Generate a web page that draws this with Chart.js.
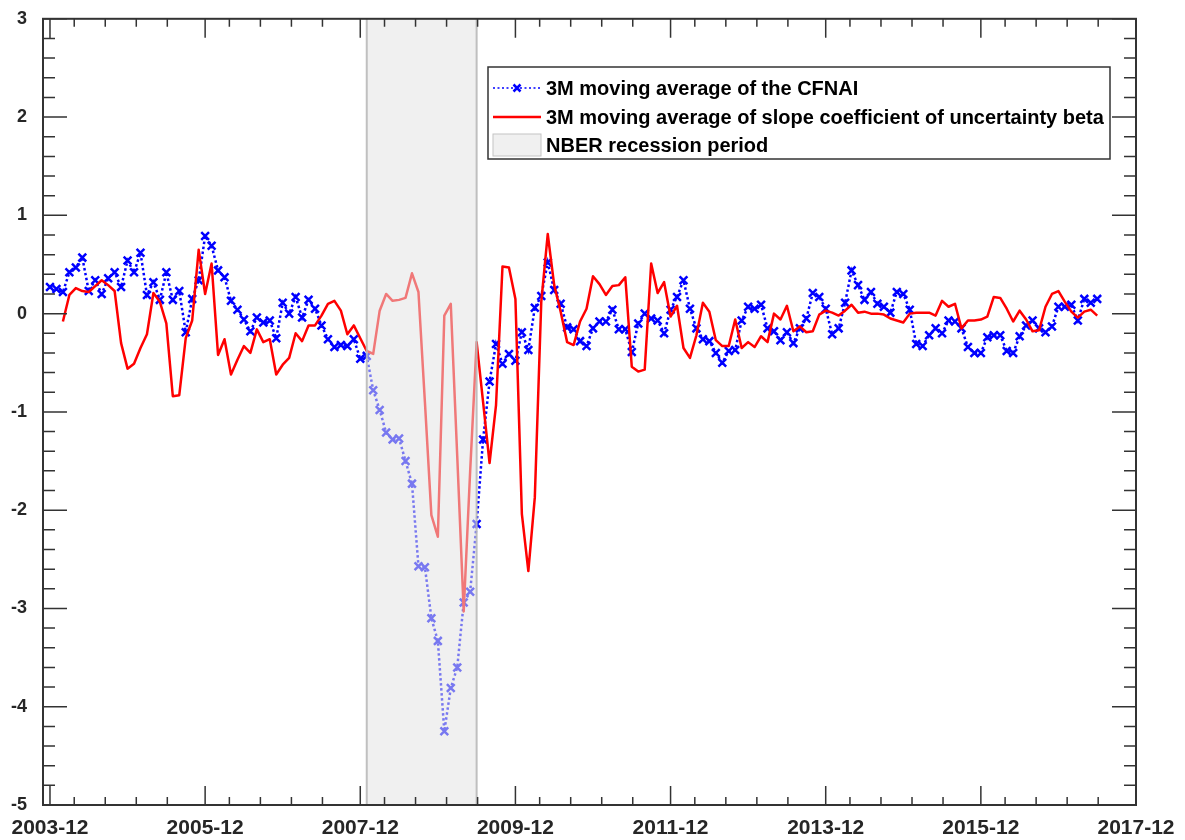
<!DOCTYPE html>
<html>
<head>
<meta charset="utf-8">
<title>CFNAI and uncertainty beta</title>
<script src="https://cdn.jsdelivr.net/npm/chart.js@4.4.0/dist/chart.umd.min.js"></script>
<style>
  html, body { margin: 0; padding: 0; background: #fff; }
  #chart-wrap { width: 1185px; height: 840px; }
</style>
</head>
<body>
<div id="chart-wrap"><canvas id="cfnai-chart" width="1185" height="840"></canvas></div>
<script>
// Tick labels on the date axis, one every 24 months from 2003-12
const xTickLabels = ['2003-12', '2005-12', '2007-12', '2009-12', '2011-12', '2013-12', '2015-12', '2017-12'];
const yTickValues = [-5, -4, -3, -2, -1, 0, 1, 2, 3];

const seriesLabels = [
  '3M moving average of the CFNAI',
  '3M moving average of slope coefficient of uncertainty beta',
  'NBER recession period'
];

// Monthly values, first entry is 2003-12
const cfnaiMA3 = [
  0.27, 0.25, 0.22, 0.42, 0.47, 0.57, 0.23, 0.34, 0.20, 0.36,
  0.42, 0.27, 0.54, 0.42, 0.62, 0.19, 0.32, 0.14, 0.42, 0.14,
  0.23, -0.19, 0.15, 0.34, 0.79, 0.69, 0.44, 0.37, 0.13, 0.04,
  -0.06, -0.18, -0.04, -0.09, -0.07, -0.25, 0.11, 0.00, 0.17, -0.04,
  0.14, 0.05, -0.12, -0.26, -0.34, -0.32, -0.33, -0.26, -0.46, -0.43,
  -0.78, -0.98, -1.21, -1.28, -1.27, -1.50, -1.73, -2.57, -2.58, -3.10,
  -3.33, -4.25, -3.81, -3.60, -2.94, -2.83, -2.14, -1.28, -0.69, -0.31,
  -0.51, -0.41, -0.48, -0.19, -0.37, 0.06, 0.18, 0.52, 0.24, 0.10,
  -0.14, -0.16, -0.28, -0.33, -0.15, -0.08, -0.08, 0.04, -0.16, -0.16,
  -0.39, -0.10, 0.00, -0.05, -0.07, -0.20, 0.04, 0.17, 0.34, 0.05,
  -0.15, -0.26, -0.28, -0.40, -0.50, -0.38, -0.37, -0.07, 0.07, 0.05,
  0.09, -0.15, -0.18, -0.27, -0.19, -0.30, -0.15, -0.05, 0.21, 0.17,
  0.05, -0.21, -0.15, 0.11, 0.44, 0.29, 0.14, 0.22, 0.10, 0.07,
  0.01, 0.22, 0.20, 0.04, -0.31, -0.33, -0.22, -0.15, -0.20, -0.07,
  -0.08, -0.15, -0.34, -0.40, -0.40, -0.24, -0.22, -0.22, -0.38, -0.40,
  -0.23, -0.12, -0.07, -0.15, -0.19, -0.13, 0.07, 0.07, 0.09, -0.07,
  0.15, 0.11, 0.15
];

// Same months; the beta series starts in 2004-02
const uncertaintyBetaMA3 = [
  null, null, -0.08, 0.19, 0.26, 0.23, 0.22, 0.28, 0.34, 0.29,
  0.23, -0.30, -0.56, -0.51, -0.35, -0.21, 0.21, 0.12, -0.10, -0.84,
  -0.83, -0.25, -0.07, 0.65, 0.20, 0.51, -0.42, -0.26, -0.62, -0.47,
  -0.33, -0.40, -0.16, -0.29, -0.26, -0.62, -0.52, -0.45, -0.20, -0.28,
  -0.12, -0.12, -0.02, 0.10, 0.13, 0.03, -0.21, -0.12, -0.25, -0.38,
  -0.41, 0.03, 0.20, 0.13, 0.14, 0.16, 0.41, 0.22, -0.90, -2.05,
  -2.27, -0.02, 0.10, -1.45, -3.03, -1.60, -0.29, -0.90, -1.52, -0.93,
  0.48, 0.47, 0.15, -2.04, -2.62, -1.87, 0.12, 0.81, 0.29, 0.02,
  -0.29, -0.32, -0.08, 0.05, 0.38, 0.30, 0.19, 0.28, 0.29, 0.37,
  -0.54, -0.59, -0.57, 0.51, 0.21, 0.32, -0.03, 0.08, -0.35, -0.45,
  -0.22, 0.11, 0.02, -0.27, -0.33, -0.33, -0.06, -0.35, -0.29, -0.34,
  -0.23, -0.29, 0.00, -0.06, 0.08, -0.18, -0.13, -0.19, -0.18, -0.01,
  0.03, 0.01, -0.02, 0.03, 0.09, 0.01, 0.02, 0.00, 0.00, -0.01,
  -0.05, -0.07, -0.09, 0.00, 0.01, 0.01, 0.01, -0.02, 0.13, 0.07,
  0.10, -0.15, -0.07, -0.07, -0.06, -0.03, 0.17, 0.16, 0.05, -0.08,
  0.03, -0.06, -0.18, -0.17, 0.07, 0.20, 0.23, 0.12, 0.02, -0.04,
  0.02, 0.04, -0.02
];

const recessionPeriod = ['2008-01', '2009-06'];

const TICK_FONT = '"Liberation Sans", Arial, sans-serif';

// Month number counted from 2003-12
function monthIndex(label) {
  const parts = label.split('-');
  return (parseInt(parts[0], 10) - 2003) * 12 + parseInt(parts[1], 10) - 12;
}

function toPoints(values) {
  const points = [];
  values.forEach((v, i) => {
    if (v !== null) points.push({ x: i, y: v });
  });
  return points;
}

// Grey patch laid over the lines, so they show through faded
const recessionPlugin = {
  id: 'recessionPatch',
  afterDatasetsDraw(chart) {
    const { ctx, chartArea, scales } = chart;
    const x0 = scales.x.getPixelForValue(monthIndex(recessionPeriod[0]));
    const x1 = scales.x.getPixelForValue(monthIndex(recessionPeriod[1]));
    ctx.save();
    ctx.fillStyle = 'rgba(226, 226, 226, 0.53)';
    ctx.fillRect(x0, chartArea.top, x1 - x0, chartArea.bottom - chartArea.top);
    ctx.strokeStyle = 'rgba(185, 185, 185, 0.9)';
    ctx.lineWidth = 2;
    ctx.beginPath();
    ctx.moveTo(x0, chartArea.top);
    ctx.lineTo(x0, chartArea.bottom);
    ctx.moveTo(x1, chartArea.top);
    ctx.lineTo(x1, chartArea.bottom);
    ctx.stroke();
    ctx.restore();
  }
};

// Box around the axes with inward ticks on all four sides
const frameTicksPlugin = {
  id: 'frameTicks',
  afterDraw(chart) {
    const { ctx, chartArea: a, scales } = chart;
    const x = scales.x;
    const y = scales.y;
    ctx.save();
    ctx.strokeStyle = '#333';
    ctx.lineWidth = 1.5;
    ctx.beginPath();
    // y: major every 1, minor every 0.2
    for (let k = 0; k <= 40; k++) {
      const py = y.getPixelForValue(yTickValues[0] + k * 0.2);
      const len = k % 5 === 0 ? 24 : 12;
      ctx.moveTo(a.left, py);
      ctx.lineTo(a.left + len, py);
      ctx.moveTo(a.right, py);
      ctx.lineTo(a.right - len, py);
    }
    // x: major every 24 months, four minor ticks in between
    xTickLabels.forEach((label, i) => {
      const px = x.getPixelForValue(i * 24);
      ctx.moveTo(px, a.bottom);
      ctx.lineTo(px, a.bottom - 19);
      ctx.moveTo(px, a.top);
      ctx.lineTo(px, a.top + 19);
      if (i === xTickLabels.length - 1) return;
      for (let j = 0; j < 4; j++) {
        const mx = x.getPixelForValue(i * 24 + 3.75 + j * 4.8);
        ctx.moveTo(mx, a.bottom);
        ctx.lineTo(mx, a.bottom - 8);
        ctx.moveTo(mx, a.top);
        ctx.lineTo(mx, a.top + 8);
      }
    });
    ctx.stroke();
    ctx.lineWidth = 2;
    ctx.strokeRect(a.left, a.top, a.right - a.left, a.bottom - a.top);
    ctx.restore();
  }
};

// Legend box inside the plot, upper right
const boxLegendPlugin = {
  id: 'boxLegend',
  afterDraw(chart) {
    const ctx = chart.ctx;
    const left = 488, top = 67, width = 622, height = 92;
    const rowY = [88, 117, 145];
    const sampleX0 = 493, sampleX1 = 541, textX = 546;
    ctx.save();
    ctx.fillStyle = '#fff';
    ctx.fillRect(left, top, width, height);
    ctx.strokeStyle = '#333';
    ctx.lineWidth = 1.5;
    ctx.strokeRect(left, top, width, height);

    // blue dotted line with a cross marker
    ctx.strokeStyle = '#0000ff';
    ctx.lineWidth = 1.5;
    ctx.setLineDash([2, 2.5]);
    ctx.beginPath();
    ctx.moveTo(sampleX0, rowY[0]);
    ctx.lineTo(sampleX1, rowY[0]);
    ctx.stroke();
    ctx.setLineDash([]);
    const mx = (sampleX0 + sampleX1) / 2;
    ctx.lineWidth = 2.5;
    ctx.beginPath();
    ctx.moveTo(mx - 3.5, rowY[0] - 3.5);
    ctx.lineTo(mx + 3.5, rowY[0] + 3.5);
    ctx.moveTo(mx - 3.5, rowY[0] + 3.5);
    ctx.lineTo(mx + 3.5, rowY[0] - 3.5);
    ctx.stroke();

    // red solid line
    ctx.strokeStyle = '#ff0000';
    ctx.lineWidth = 2.5;
    ctx.beginPath();
    ctx.moveTo(sampleX0, rowY[1]);
    ctx.lineTo(sampleX1, rowY[1]);
    ctx.stroke();

    // grey patch
    ctx.fillStyle = '#f0f0f0';
    ctx.fillRect(sampleX0, rowY[2] - 11, sampleX1 - sampleX0, 22);
    ctx.strokeStyle = '#c4c4c4';
    ctx.lineWidth = 1;
    ctx.strokeRect(sampleX0, rowY[2] - 11, sampleX1 - sampleX0, 22);

    ctx.fillStyle = '#000';
    ctx.font = 'bold 20px ' + TICK_FONT;
    ctx.textBaseline = 'middle';
    ctx.textAlign = 'left';
    seriesLabels.forEach((text, i) => {
      ctx.fillText(text, textX, rowY[i] + 1);
    });
    ctx.restore();
  }
};

function renderCfnaiChart(elementId) {
  const ctx = document.getElementById(elementId);
  if (!ctx) return;

  new Chart(ctx, {
    type: 'line',
    data: {
      datasets: [
        {
          label: seriesLabels[0],
          data: toPoints(cfnaiMA3),
          borderColor: '#0000ff',
          borderWidth: 2.5,
          borderDash: [2.5, 2.5],
          pointStyle: 'crossRot',
          pointRadius: 5.5,
          pointBorderWidth: 2.5,
          pointBorderColor: '#0000ff',
          pointBackgroundColor: '#0000ff',
          fill: false,
          tension: 0,
          order: 1
        },
        {
          label: seriesLabels[1],
          data: toPoints(uncertaintyBetaMA3),
          borderColor: '#ff0000',
          borderWidth: 2.5,
          borderJoinStyle: 'round',
          pointRadius: 0,
          fill: false,
          tension: 0,
          order: 0
        }
      ]
    },
    options: {
      responsive: false,
      animation: false,
      events: [],
      layout: {
        padding: { top: 16, right: 49, left: 0, bottom: 0 }
      },
      plugins: {
        legend: { display: false },
        tooltip: { enabled: false }
      },
      scales: {
        x: {
          type: 'linear',
          min: -1.08,
          max: 168,
          grid: { display: false },
          border: { display: false },
          afterBuildTicks: function(scale) {
            scale.ticks = xTickLabels.map((label, i) => ({ value: i * 24 }));
          },
          afterFit: function(scale) {
            scale.height = 35;
          },
          ticks: {
            autoSkip: false,
            maxRotation: 0,
            padding: 3,
            color: '#262626',
            font: { family: TICK_FONT, size: 21, weight: 'bold' },
            callback: function(value) {
              return xTickLabels[Math.round(value / 24)];
            }
          }
        },
        y: {
          min: -5,
          max: 3,
          grid: { display: false },
          border: { display: false },
          afterBuildTicks: function(scale) {
            scale.ticks = yTickValues.map(v => ({ value: v }));
          },
          afterFit: function(scale) {
            scale.width = 43;
          },
          ticks: {
            padding: 8,
            color: '#262626',
            font: { family: TICK_FONT, size: 18, weight: 'bold' },
            callback: function(value) {
              return String(value);
            }
          }
        }
      }
    },
    plugins: [recessionPlugin, frameTicksPlugin, boxLegendPlugin]
  });
}

document.addEventListener('DOMContentLoaded', function() {
  if (typeof Chart === 'undefined') {
    console.error('Chart.js is not loaded.');
    return;
  }
  renderCfnaiChart('cfnai-chart');
});
</script>
</body>
</html>
